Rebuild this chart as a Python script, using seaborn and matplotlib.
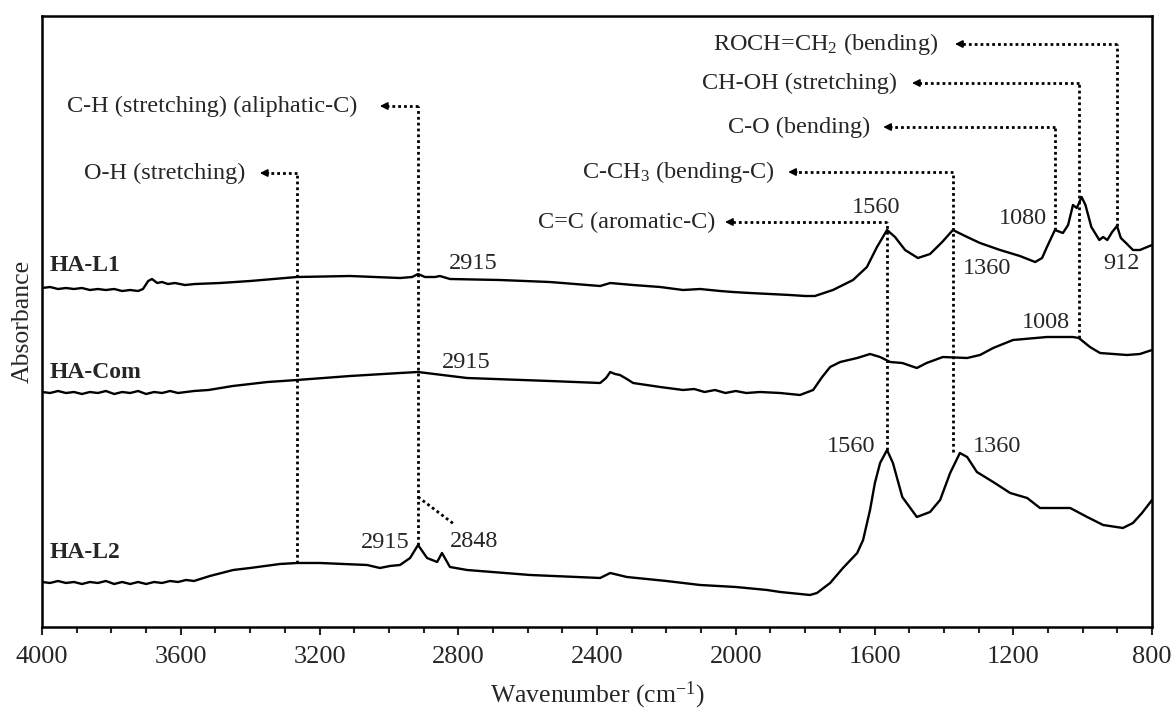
import numpy as np
import pandas as pd
import matplotlib
matplotlib.use("Agg")
import matplotlib.pyplot as plt
from matplotlib.ticker import MultipleLocator
import seaborn as sns

# FTIR spectra (wavenumber cm-1, absorbance in arbitrary offset units)
wn_l1 = [4000, 3977, 3954, 3931, 3908, 3885, 3862, 3839, 3816, 3792, 3769, 3746, 3723, 3709,
         3694, 3683, 3668, 3654, 3637, 3617, 3588, 3559, 3487, 3400, 3265, 3112, 2968, 2933,
         2916, 2896, 2867, 2853, 2824, 2680, 2536, 2391, 2362, 2296, 2218, 2152, 2103, 2045,
         2008, 1959, 1901, 1844, 1800, 1772, 1720, 1662, 1622, 1593, 1564, 1541, 1512, 1475,
         1440, 1405, 1374, 1339, 1296, 1238, 1181, 1137, 1117, 1103, 1080, 1057, 1042, 1028,
         1017, 1003, 992, 975, 952, 941, 929, 915, 901, 890, 875, 855, 835, 800]
ab_l1 = [339, 340, 338, 339, 338, 339, 337, 338, 337, 338, 336, 337, 336, 338,
         346, 348, 344, 345, 343, 344, 342, 343, 344, 346, 350, 351, 349, 350,
         353, 350, 350, 351, 348, 347, 345, 341, 344, 342, 340, 337, 338, 336,
         335, 334, 333, 332, 331, 331, 337, 347, 360, 380, 397, 390, 377, 369,
         373, 385, 397, 391, 384, 377, 371, 365, 369, 380, 397, 394, 402, 422,
         419, 430, 422, 400, 387, 390, 387, 395, 401, 389, 384, 377, 377, 382]

wn_com = [4000, 3977, 3954, 3931, 3908, 3885, 3862, 3839, 3816, 3792, 3769, 3746, 3723, 3700,
          3677, 3654, 3631, 3608, 3585, 3562, 3520, 3450, 3350, 3265, 3112, 2968, 2916, 2775,
          2536, 2391, 2374, 2362, 2348, 2334, 2314, 2296, 2218, 2152, 2120, 2090, 2060, 2030,
          2000, 1970, 1930, 1872, 1815, 1777, 1751, 1728, 1699, 1650, 1613, 1584, 1555, 1520,
          1478, 1450, 1403, 1333, 1296, 1258, 1201, 1103, 1028, 1011, 979, 950, 872, 835, 800]
ab_com = [235, 234, 236, 234, 235, 233, 235, 234, 236, 233, 235, 234, 236, 233,
          235, 234, 236, 234, 235, 236, 237, 241, 245, 247, 251, 254, 255, 249,
          246, 244, 249, 255, 253, 252, 248, 244, 240, 237, 238, 235, 237, 234,
          236, 234, 235, 234, 232, 237, 250, 260, 265, 269, 273, 270, 265, 264,
          259, 264, 270, 269, 272, 279, 287, 290, 290, 289, 280, 274, 272, 273, 277]

wn_l2 = [4000, 3977, 3954, 3931, 3908, 3885, 3862, 3839, 3816, 3792, 3769, 3746, 3723, 3700,
         3677, 3654, 3631, 3608, 3585, 3562, 3516, 3449, 3400, 3314, 3265, 3199, 3063, 3026,
         2997, 2968, 2939, 2916, 2890, 2861, 2847, 2824, 2775, 2593, 2391, 2362, 2314, 2200,
         2103, 2000, 1910, 1872, 1786, 1766, 1728, 1691, 1650, 1633, 1613, 1599, 1584, 1564,
         1547, 1520, 1478, 1440, 1411, 1382, 1354, 1333, 1305, 1258, 1209, 1160, 1123, 1085,
         1036, 987, 941, 884, 855, 829, 800]
ab_l2 = [45, 44, 46, 44, 45, 43, 45, 44, 46, 43, 45, 43, 45, 43,
         45, 44, 46, 45, 47, 46, 51, 57, 59, 63, 64, 64, 62, 59,
         61, 62, 69, 82, 69, 65, 74, 60, 57, 52, 49, 54, 50, 46,
         42, 40, 37, 35, 32, 34, 44, 59, 74, 87, 117, 144, 164, 177,
         164, 130, 110, 115, 127, 154, 174, 170, 155, 145, 134, 129, 119, 119,
         119, 110, 102, 99, 104, 114, 127]

samples = ["HA-L1", "HA-Com", "HA-L2"]

# band assignments: text, band position, arrow height, bottom of guide line, text end, arrow tip
bands = ["O-H (stretching)", "C-H (stretching) (aliphatic-C)", "C=C (aromatic-C)",
         "C-CH$_3$ (bending-C)", "C-O (bending)", "CH-OH (stretching)", "ROCH=CH$_2$ (bending)"]
band_wn = [3265, 2916, 1564, 1374, 1080, 1011, 901]
band_top = [454, 521, 405, 455, 500, 544, 583]
band_bottom = [64, 82, 177, 175, 397, 289, 401]
band_text_end = [3415, 3092, 2060, 1887, 1613, 1535, 1417]
band_tip = [3372, 3026, 2031, 1849, 1575, 1492, 1368]

# peak labels
peak_txt = ["2915", "2915", "2915", "2848", "1560", "1360", "1080", "912", "1008", "1560", "1360"]
peak_x = [2827, 2847, 2939, 2824, 1596, 1345, 1103, 889, 1036, 1599, 1316]
peak_y = [364, 265, 84, 85, 420, 359, 409, 364, 305, 180, 180]
peak_ha = ["left", "left", "right", "left", "center", "left", "right", "center", "right", "right", "left"]

label_y = [362, 255, 74]

df = pd.concat([
    pd.DataFrame({"wn": wn_l1, "ab": ab_l1, "sample": "HA-L1"}),
    pd.DataFrame({"wn": wn_com, "ab": ab_com, "sample": "HA-Com"}),
    pd.DataFrame({"wn": wn_l2, "ab": ab_l2, "sample": "HA-L2"}),
])

sns.set_theme(style="ticks")
plt.rcParams['font.family'] = ['Liberation Serif', 'DejaVu Serif']
plt.rcParams['mathtext.fontset'] = 'custom'
plt.rcParams['mathtext.rm'] = 'Liberation Serif'
plt.rcParams['mathtext.it'] = 'Liberation Serif:italic'

fig = plt.figure(figsize=(11.74, 7.12), dpi=100)
ax = fig.add_axes([0.0358, 0.1194, 0.9455, 0.8581])

sns.lineplot(data=df, x="wn", y="ab", hue="sample", palette={s: "black" for s in samples},
             sort=False, estimator=None, legend=False, lw=1.7, ax=ax)

dot = (0, (1, 1.1))
for txt, x, top, bot, tend, tip in zip(bands, band_wn, band_top, band_bottom, band_text_end, band_tip):
    ax.plot([x, x], [bot, top], color="black", lw=2, ls=dot)
    ax.plot([x, tip - 12], [top, top], color="black", lw=2, ls=dot)
    ax.annotate("", xy=(tip, top), xytext=(tip - 25, top),
                arrowprops=dict(arrowstyle="-|>", color="black", lw=1.2, mutation_scale=11,
                                shrinkA=0, shrinkB=0))
    ax.text(tend, top, txt, ha="right", va="center", fontsize=17.5)

# diagonal guide to the 2848 band
ax.plot([2916, 2809], [130, 102], color="black", lw=2, ls=dot)

for t, x, y, ha in zip(peak_txt, peak_x, peak_y, peak_ha):
    ax.text(x, y, t, ha=ha, va="center", fontsize=17.5)

for s, y in zip(samples, label_y):
    ax.text(3977, y, s, ha="left", va="center", fontsize=17, fontweight="bold")

ax.set_xlim(4000, 800)
ax.set_ylim(0, 611)
ax.xaxis.set_major_locator(MultipleLocator(400))
ax.xaxis.set_minor_locator(MultipleLocator(100))
ax.tick_params(axis="x", which="major", direction="out", length=6, width=1.5, labelsize=19, pad=8)
ax.tick_params(axis="x", which="minor", direction="out", length=4, width=1.5)
ax.set_yticks([])
for sp in ax.spines.values():
    sp.set_linewidth(1.8)
    sp.set_color("black")
ax.set_xlabel("Wavenumber (cm$^{-1}$)", fontsize=18.5, labelpad=8)
ax.set_ylabel("Absorbance", fontsize=18.5, labelpad=6)

fig.savefig("out.png", dpi=100)
